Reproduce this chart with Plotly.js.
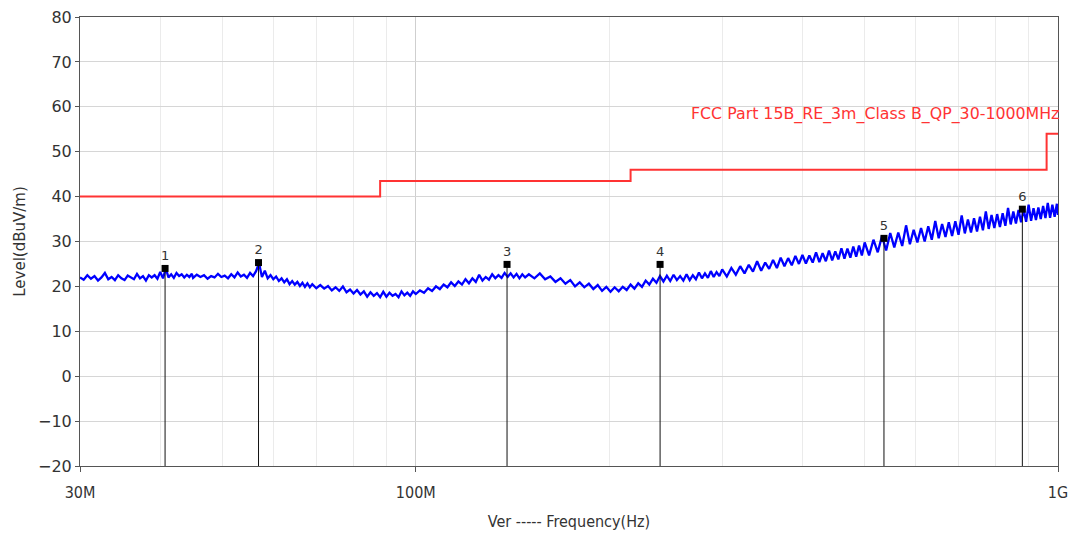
<!DOCTYPE html>
<html>
<head>
<meta charset="utf-8">
<script src="https://cdn.plot.ly/plotly-3.0.1.min.js"></script>
<style>html,body{margin:0;padding:0;background:#fff;}#chart{width:1074px;height:534px;}</style>
</head>
<body>
<div id="chart"></div>
<script>
const freqMHz = [
30.0,30.4,30.8,31.2,31.6,32.0,32.4,32.8,33.2,33.6,34.0,34.4,34.8,35.2,35.6,36.0,36.4,36.8,37.2,37.6,
38.0,38.4,38.8,39.2,39.6,40.0,40.4,40.8,41.2,41.6,42.0,42.4,42.8,43.2,43.6,44.0,44.4,44.8,
45.0,45.6,46.2,46.8,47.4,48.0,48.6,49.2,49.8,50.4,51.0,51.6,52.2,52.8,53.4,54.0,54.6,55.2,55.8,56.4,
57.0,57.6,58.2,58.8,59.4,60.0,60.6,61.2,61.8,62.4,63.0,63.6,64.2,64.8,65.4,66.0,66.6,67.2,67.8,68.4,69.0,
70,71,72,73,74,75,76,77,78,79,80,81,82,83,84,85,86,87,88,89,90,91,92,93,94,95,96,97,98,99,
100,101.5,103,104.5,106,107.5,109,110.5,112,113.5,115,116.5,118,119.5,121,122.5,124,125.5,127,128.5,
130,131.5,133,134.5,136,137.5,139,140.5,142,143.5,145,146.5,148,
150,153,156,159,162,165,168,171,174,177,180,183,186,189,192,195,198,201,204,207,
210,213,216,219,222,225,228,231,234,237,240,243,246,249,252,255,258,261,264,267,
270,273,276,279,282,285,288,291,294,297,
300,305,310,315,320,325,330,335,340,345,350,355,360,365,370,375,380,385,390,395,
400,405,410,415,420,425,430,435,440,445,450,455,460,465,470,475,480,485,490,495,
500,508,516,524,532,540,548,556,564,572,580,588,596,604,612,620,628,636,644,652,
660,668,676,684,692,700,708,716,724,732,740,748,756,764,772,780,788,796,804,812,
820,828,836,844,852,860,868,876,884,892,900,908,916,924,932,940,948,956,964,972,
980,988,996,1000
];
const levelDb = [
22.0,21.5,22.5,21.7,22.3,21.3,22.0,23.0,21.6,22.1,21.4,22.5,21.8,21.4,22.4,22.0,21.6,22.8,21.8,22.3,
21.3,22.5,22.0,22.5,21.7,23.2,21.8,24.0,22.0,22.7,21.9,23.0,22.3,22.7,22.0,22.6,22.1,22.8,
21.9,22.6,22.1,22.5,21.7,22.3,22.0,22.8,22.1,22.4,21.8,22.7,22.0,23.1,22.2,22.6,21.9,23.0,22.3,23.4,
25.2,22.1,23.5,21.8,22.5,21.6,22.2,21.2,21.8,20.9,21.6,20.5,21.2,20.4,21.0,20.1,20.8,19.9,20.7,19.8,20.5,
19.6,20.3,19.5,20.1,19.1,19.8,19.0,20.0,18.7,19.3,18.4,19.2,18.2,18.9,17.7,18.7,17.9,18.5,17.6,18.8,
17.7,18.6,17.9,18.3,17.6,18.9,18.0,18.6,17.9,18.9,
18.3,19.1,18.6,19.6,19.0,20.0,19.4,20.4,19.8,20.9,20.1,21.1,20.4,21.6,20.7,21.8,21.0,22.6,21.3,22.1,
21.5,22.7,21.8,22.5,21.9,23.0,22.1,22.9,22.0,22.8,21.8,22.7,22.0,
22.7,21.8,22.9,21.6,22.2,21.0,21.8,20.6,21.4,20.0,20.9,19.8,20.6,19.4,20.3,19.0,19.9,18.8,19.8,18.9,
19.9,19.2,20.4,19.5,20.7,19.9,21.3,20.4,21.7,20.8,22.3,21.1,22.4,21.2,22.6,21.4,22.3,21.3,22.7,21.4,
22.5,21.6,23.1,21.8,22.9,21.9,23.4,22.1,23.2,22.3,
23.8,22.2,24.1,22.6,24.5,22.9,24.8,23.3,25.6,23.5,25.3,23.9,25.9,24.1,26.4,24.5,26.3,24.7,26.8,25.0,
27.0,25.1,26.9,25.3,27.6,25.4,27.4,25.6,28.0,25.8,27.8,26.0,28.5,26.2,28.4,26.4,28.9,26.6,29.1,26.9,
29.8,26.9,30.4,27.6,31.2,28.0,31.9,28.7,32.0,29.0,33.6,29.4,32.6,29.8,33.0,30.0,33.4,30.4,34.6,30.7,
33.9,31.0,34.3,31.2,34.5,31.5,35.8,31.8,34.9,32.0,35.2,32.2,35.5,32.5,36.7,32.8,35.9,33.0,36.1,33.2,
36.3,33.5,37.5,33.8,36.7,34.0,37.0,34.3,37.2,34.4,38.2,34.6,37.4,34.8,37.6,35.0,37.9,35.2,38.6,35.3,
38.2,35.5,38.4,35.9
];

// Limit line: FCC Part 15B Class B QP @3m
const limitFreqMHz = [30, 88, 216, 960, 1000];
const limitDb = [40, 43.5, 46, 54, 54];
const limitLabel = "FCC Part 15B_RE_3m_Class B_QP_30-1000MHz";

// Peak markers
const markerIds = ["1", "2", "3", "4", "5", "6"];
const markerFreqMHz = [40.7, 56.9, 138.7, 240.1, 535.8, 880.0];
const markerDb = [24.0, 25.3, 24.9, 24.9, 30.7, 37.2];

// Axis ticks
const xTickVals = [30, 100, 1000];
const xTickText = ["30M", "100M", "1G"];
const xMinorVals = [40, 50, 60, 70, 80, 90, 200, 300, 400, 500, 600, 700, 800, 900];
const yFloor = -20;

const traces = [];
traces.push({
  x: freqMHz, y: levelDb, type: "scatter", mode: "lines",
  line: {color: "#0000ff", width: 2.3}, hoverinfo: "skip"
});
traces.push({
  x: limitFreqMHz, y: limitDb, type: "scatter", mode: "lines",
  line: {color: "#ff3333", width: 2, shape: "hv"}, hoverinfo: "skip"
});
markerFreqMHz.forEach((f, i) => {
  traces.push({
    x: [f, f], y: [markerDb[i], yFloor], type: "scatter", mode: "lines",
    line: {color: "#111111", width: 1}, hoverinfo: "skip"
  });
});
traces.push({
  x: markerFreqMHz, y: markerDb, text: markerIds, type: "scatter", mode: "markers+text",
  marker: {symbol: "square", size: 7, color: "#000000"},
  textposition: "top center",
  textfont: {family: "DejaVu Sans", size: 13, color: "#333333"},
  hoverinfo: "skip"
});

const layout = {
  width: 1074, height: 534,
  margin: {l: 80, r: 16, t: 17, b: 68},
  paper_bgcolor: "#ffffff", plot_bgcolor: "#ffffff",
  showlegend: false,
  font: {family: "DejaVu Sans", color: "#333333"},
  xaxis: {
    type: "log",
    range: [Math.log10(30), Math.log10(1000)],
    tickmode: "array", tickvals: xTickVals, ticktext: xTickText,
    ticks: "outside", ticklen: 5, tickcolor: "#555555",
    tickfont: {family: "DejaVu Sans Condensed, DejaVu Sans", size: 16, color: "#333333"},
    ticklabelstandoff: 7,
    showline: true, linecolor: "#555555", linewidth: 1, mirror: true,
    showgrid: true, gridcolor: "#cfcfcf", gridwidth: 1,
    minor: {tickmode: "array", tickvals: xMinorVals, showgrid: true, gridcolor: "#ebebeb", gridwidth: 1, ticks: ""},
    zeroline: false,
    title: {text: "Ver ----- Frequency(Hz)", font: {family: "DejaVu Sans Condensed, DejaVu Sans", size: 16, color: "#333333"}, standoff: 14}
  },
  yaxis: {
    range: [-20, 80], dtick: 10, tick0: 0,
    ticks: "outside", ticklen: 4, tickcolor: "#555555",
    tickfont: {family: "DejaVu Sans", size: 16, color: "#333333"},
    showline: true, linecolor: "#555555", linewidth: 1, mirror: true,
    showgrid: true, gridcolor: "#d6d6d6", gridwidth: 1,
    zeroline: false,
    title: {text: "Level(dBuV/m)", font: {family: "DejaVu Sans", size: 15, color: "#333333"}, standoff: 8}
  },
  annotations: [{
    text: limitLabel, xref: "paper", yref: "y", x: 1.003, y: 58.5,
    xanchor: "right", yanchor: "middle", showarrow: false,
    font: {family: "DejaVu Sans", size: 15.8, color: "#ff3333"}
  }]
};

Plotly.newPlot("chart", traces, layout, {staticPlot: true, displayModeBar: false});
</script>
</body>
</html>
